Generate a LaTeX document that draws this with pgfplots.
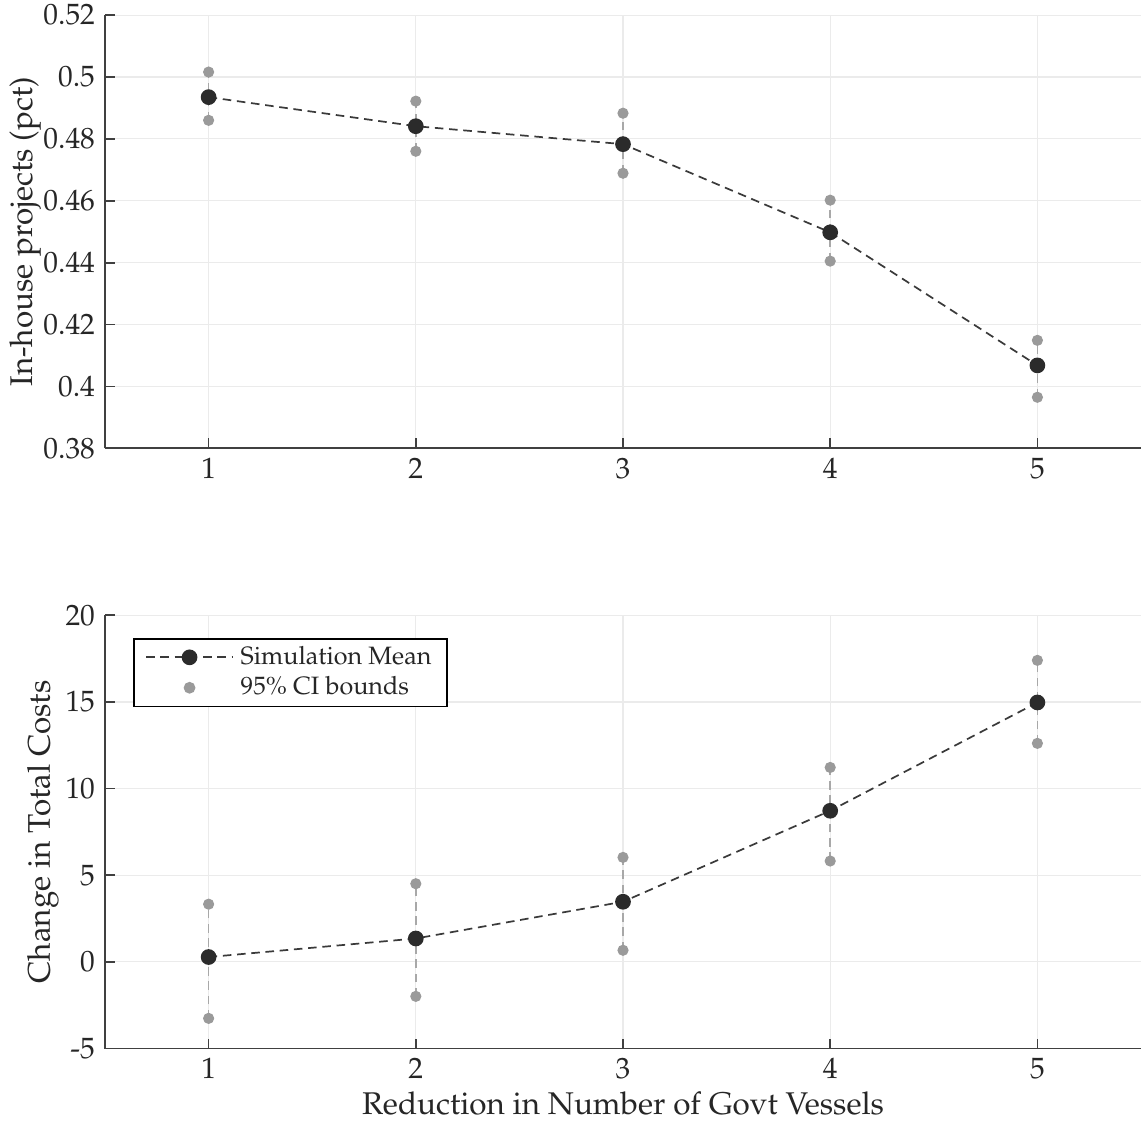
\documentclass[border=0pt]{standalone}
\usepackage[T1]{fontenc}
\usepackage{mathpazo}
\usepackage{pgfplots}
\pgfplotsset{compat=1.18}
\definecolor{meanc}{HTML}{2B2B2B}
\definecolor{linec}{HTML}{3A3A3A}
\definecolor{cic}{HTML}{9A9A9A}
\definecolor{vlc}{HTML}{A8A8A8}
\definecolor{gridc}{HTML}{EBEBEB}
\definecolor{axc}{HTML}{404040}
\definecolor{txtc}{HTML}{262626}
\pgfplotsset{
 mystyle/.style={
  scale only axis, width=363pt, height=151.8pt,
  xmin=0.5, xmax=5.5, xtick={1,2,3,4,5},
  axis x line*=bottom, axis y line*=left,
  axis line style={axc, line width=0.6pt, -},
  tick style={axc, line width=0.6pt},
  major tick length=3.5pt, tick align=inside,
  grid=major, major grid style={gridc, line width=0.4pt},
  ticklabel style={font=\fontsize{10.3}{12}\selectfont, text=txtc},
  label style={font=\fontsize{11}{13}\selectfont, text=txtc},
  /pgf/number format/assume math mode=true,
 },
 vline/.style={vlc, line width=0.5pt, dash pattern=on 3pt off 2pt, forget plot},
 cistyle/.style={only marks, mark=*, mark size=1.75pt, cic, mark options={fill=cic, draw=cic},
   legend image code/.code={\draw[mark repeat=1] plot coordinates {(0.535cm,0cm)};}},
 meanstyle/.style={linec, line width=0.6pt, dash pattern=on 3pt off 2pt, mark=*, mark size=2.45pt,
   mark options={solid, fill=meanc, draw=meanc},
   legend image code/.code={\draw[mark repeat=2,mark phase=2] plot coordinates {(0cm,0cm)(0.535cm,0cm)(1.07cm,0cm)};}},
}
\begin{document}
\begin{tikzpicture}
\begin{axis}[mystyle, name=top,
  ymin=0.38, ymax=0.52, ytick={0.38,0.4,0.42,0.44,0.46,0.48,0.5,0.52},
  ylabel={In-house projects (pct)}, ylabel shift=-6pt,
  /pgf/number format/precision=2]
\addplot[vline] coordinates {(1,0.4860)(1,0.5016)};
\addplot[vline] coordinates {(2,0.4760)(2,0.4922)};
\addplot[vline] coordinates {(3,0.4689)(3,0.4883)};
\addplot[vline] coordinates {(4,0.4405)(4,0.4602)};
\addplot[vline] coordinates {(5,0.3965)(5,0.4149)};
\addplot[cistyle] coordinates {(1,0.4860)(1,0.5016)(2,0.4760)(2,0.4922)(3,0.4689)(3,0.4883)(4,0.4405)(4,0.4602)(5,0.3965)(5,0.4149)};
\addplot[meanstyle] coordinates {(1,0.4935)(2,0.4841)(3,0.4783)(4,0.4498)(5,0.4068)};
\end{axis}
\begin{axis}[mystyle, name=bot, at={(0,-210.3pt)},
  ymin=-5, ymax=20, ytick={-5,0,5,10,15,20},
  ylabel={Change in Total Costs}, ylabel shift=-4.5pt,
  xlabel={Reduction in Number of Govt Vessels}, xlabel shift=-2.5pt,
  reverse legend,
  legend style={at={(0.027,0.948)}, anchor=north west, draw=black, line width=0.6pt,
    font=\fontsize{8.8}{10.5}\selectfont, text=txtc, inner xsep=4pt, inner ysep=1.2pt, row sep=0pt,
    column sep=1pt, nodes={inner sep=1.4pt}},
  legend cell align=left]
\addplot[vline] coordinates {(1,-3.26)(1,3.33)};
\addplot[vline] coordinates {(2,-1.99)(2,4.51)};
\addplot[vline] coordinates {(3,0.67)(3,6.03)};
\addplot[vline] coordinates {(4,5.82)(4,11.22)};
\addplot[vline] coordinates {(5,12.61)(5,17.40)};
\addplot[cistyle] coordinates {(1,-3.26)(1,3.33)(2,-1.99)(2,4.51)(3,0.67)(3,6.03)(4,5.82)(4,11.22)(5,12.61)(5,17.40)};
\addlegendentry{95\% CI bounds}
\addplot[meanstyle] coordinates {(1,0.28)(2,1.35)(3,3.47)(4,8.72)(5,14.97)};
\addlegendentry{Simulation Mean}
\end{axis}
\pgfresetboundingbox
\path[use as bounding box] ([xshift=-36.8pt, yshift=5.3pt]top.north west) rectangle ([yshift=-28pt]bot.south east);
\end{tikzpicture}
\end{document}
